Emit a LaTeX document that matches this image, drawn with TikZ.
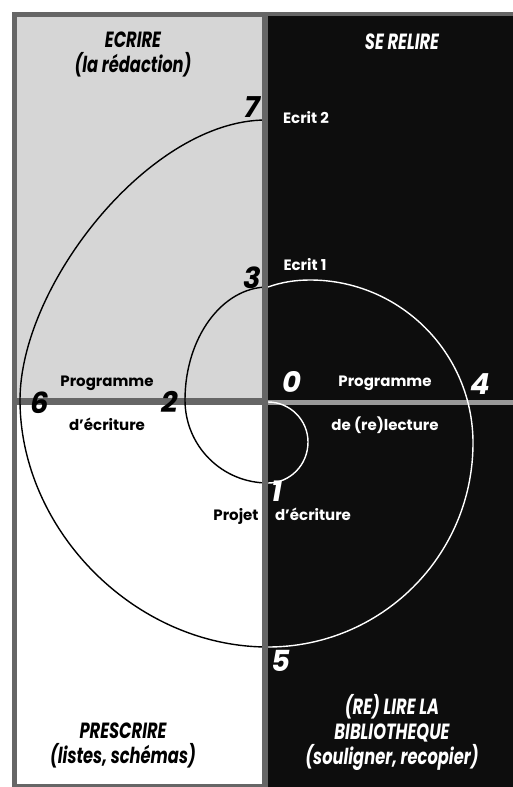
\documentclass[tikz,border=0pt]{standalone}
\usepackage{fontspec}
\setmainfont{Poppins}
\newfontfamily\condfont[FakeStretch=0.74]{Poppins}
\usetikzlibrary{positioning}

\begin{document}
\begin{tikzpicture}[
        x=1pt, y=-1pt,
        title/.style={font=\condfont\bfseries\itshape\fontsize{22}{25}\selectfont, align=center},
        lbl/.style={font=\bfseries\fontsize{15}{18}\selectfont, anchor=base},
        num/.style={font=\bfseries\itshape\fontsize{29}{29}\selectfont, inner sep=1pt},
        spiral/.style={line width=1.4pt}
    ]
    \useasboundingbox (0,0) rectangle (513,787);
    % the four fields
    \fill[black!60] (12,12) rectangle (513,787);
    \fill[black!16] (17,17) rectangle (262,398);
    \fill[white] (17,405) rectangle (262,784);
    \fill[black!95] (268,16) rectangle (513,399.5);
    \fill[black!95] (268,404.5) rectangle (513,787);
    \fill[black!40] (268,399.5) rectangle (513,404.5);

    % points of the spiral
    \coordinate (p0) at (268,402);
    \coordinate (p1) at (268,483);
    \coordinate (p2) at (185,400);
    \coordinate (p3) at (268,287);
    \coordinate (p4) at (473,443);
    \coordinate (p5) at (268,647);
    \coordinate (p6) at (20,400);
    \coordinate (p7) at (266,120);

    \draw[spiral, white] (p0) .. controls (290,402) and (308,420) .. (308,442)
        .. controls (308,465) and (290,483) .. (p1);
    \draw[spiral] (p1) .. controls (222,483) and (185,446) .. (p2)
        .. controls (185,338) and (222,287) .. (p3);
    \draw[spiral, white] (p3) .. controls (282,282) and (296,280) .. (310,280)
        .. controls (400,280) and (473,353) .. (p4)
        .. controls (473,556) and (381,647) .. (p5);
    \draw[spiral] (p5) .. controls (135,647) and (20,530) .. (p6)
        .. controls (20,285) and (150,120) .. (p7);
    \fill[black!60] (262,12) rectangle (268,787);

    % titles
    \node[title] (ecrire) at (133,54) {ECRIRE\\(la rédaction)};
    \node[title, white] (relire) at (402,42) {SE RELIRE};
    \node[title] (prescrire) at (123,745) {PRESCRIRE\\(listes, schémas)};
    \node[title, white] (lire) at (392,732) {(RE) LIRE LA\\BIBLIOTHEQUE\\(souligner, recopier)};

    % numbers
    \node[num] (n7) at (252,107) {7};
    \node[num] (n3) at (252,278) {3};
    \node[num, white] (n0) at (292,382) {0};
    \node[num, white] (n4) at (480,384) {4};
    \node[num] (n6) at (40,403) {6};
    \node[num] (n2) at (170,402) {2};
    \node[num, white] (n1) at (277,491) {1};
    \node[num, white] (n5) at (281,661) {5};

    % labels
    \node[lbl, white] (ecrit2) at (306,123) {Ecrit 2};
    \node[lbl, white] (ecrit1) at (305,270) {Ecrit 1};
    \node[lbl] (progL) at (107,386) {Programme};
    \node[lbl] (ecritureL) at (107,430) {d'écriture};
    \node[lbl, white] (progR) at (385,386) {Programme};
    \node[lbl, white] (relecture) at (385,430) {de (re)lecture};
    \node[lbl] (projet) at (236,520) {Projet};
    \node[lbl, white] (ecritureR) at (313,520) {d'écriture};
\end{tikzpicture}
\end{document}
